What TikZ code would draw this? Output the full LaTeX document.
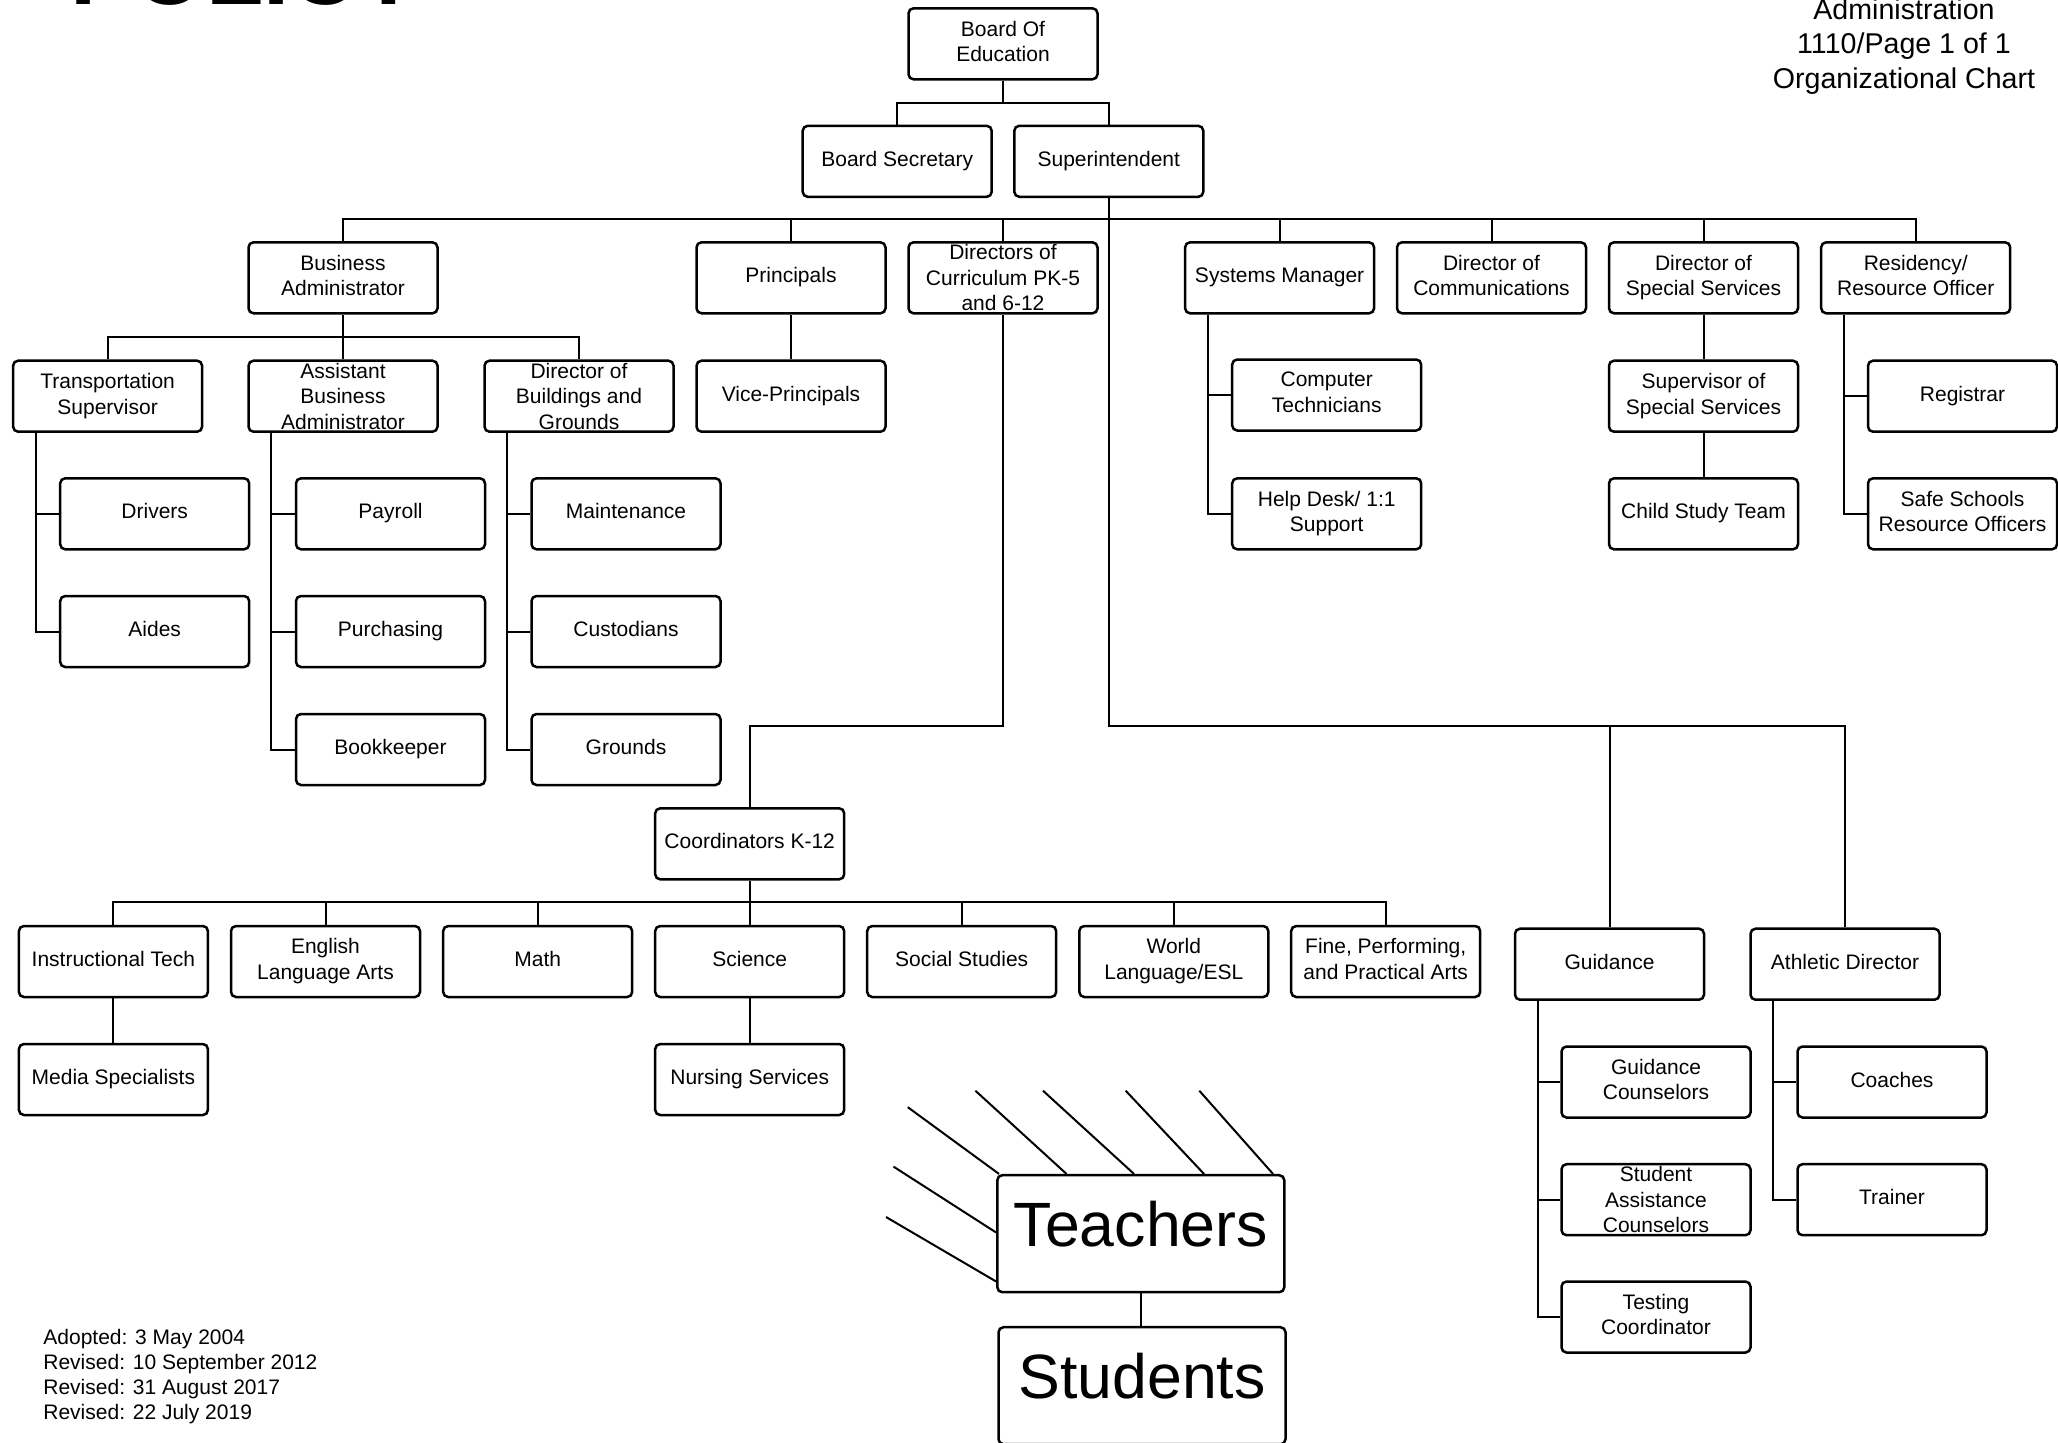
\documentclass[tikz,border=0pt]{standalone}
\usepackage{fontspec}
\setmainfont{Liberation Sans}
\usetikzlibrary{calc}
\begin{document}
\begin{tikzpicture}[x=0.5pt,y=-0.5pt,
  boxbase/.style={draw, line width=1.25pt, rounded corners=2.5pt, minimum width=94.5pt, minimum height=35.5pt, inner sep=0pt, align=center, font=\fontsize{10.5}{12.8}\selectfont},
  box/.style={boxbase, execute at end node={\rule[-2.6pt]{0pt}{0pt}}},
  boxiii/.style={boxbase},
  bigbox/.style={boxbase, minimum width=143.5pt, minimum height=58.5pt, font=\fontsize{31.3}{36}\selectfont, text height=20.5pt, text depth=7.5pt},
  conn/.style={line width=1pt},
  plain/.style={inner sep=0pt}
]
\useasboundingbox (0,0) rectangle (2058,1442);
\fill[white] (0,0) rectangle (2058,1442);

% header texts
\node[plain, anchor=base west, font=\bfseries\fontsize{47}{50}\selectfont] (policy) at (70,4) {POLICY};
\node[plain, anchor=north, align=center, font=\fontsize{14.3}{17.15}\selectfont] (hdr) at (1904,-1.5) {Administration\\1110/Page 1 of 1\\Organizational Chart};
\node[plain, anchor=north west, align=left, font=\fontsize{10.5}{12.5}\selectfont] (dates) at (43,1329.3) {Adopted: 3 May 2004\\Revised: 10 September 2012\\Revised: 31 August 2017\\Revised: 22 July 2019};

% top
\node[box] (boe) at (1003,43.8) {Board Of\\Education};
\node[box] (bsec) at (897.2,161.3) {Board Secretary};
\node[box] (sup) at (1108.8,161.3) {Superintendent};

% level 2
\node[box] (busadm) at (343,277.8) {Business\\Administrator};
\node[box] (prin) at (791,277.8) {Principals};
\node[boxiii] (dircur) at (1003,277.8) {Directors of\\Curriculum PK-5\\and 6-12};
\node[box] (sysm) at (1279.6,277.8) {Systems Manager};
\node[box] (comm) at (1491.5,277.8) {Director of\\Communications};
\node[box] (spec) at (1703.5,277.8) {Director of\\Special Services};
\node[box] (resid) at (1915.7,277.8) {Residency/\\Resource Officer};

% level 3
\node[box] (trans) at (107.6,396.2) {Transportation\\Supervisor};
\node[boxiii] (asst) at (343,396.2) {Assistant\\Business\\Administrator};
\node[boxiii] (bldg) at (579,396.2) {Director of\\Buildings and\\Grounds};
\node[box] (vice) at (791,396.2) {Vice-Principals};
\node[box] (comp) at (1326.7,395) {Computer\\Technicians};
\node[box] (supsp) at (1703.5,396.2) {Supervisor of\\Special Services};
\node[box] (reg) at (1962.5,396.2) {Registrar};

% level 4
\node[box] (drivers) at (154.7,513.8) {Drivers};
\node[box] (payroll) at (390.5,513.8) {Payroll};
\node[box] (maint) at (626,513.8) {Maintenance};
\node[box] (help) at (1326.7,513.8) {Help Desk/ 1:1\\Support};
\node[box] (child) at (1703.5,513.8) {Child Study Team};
\node[box] (safe) at (1962.5,513.8) {Safe Schools\\Resource Officers};

% level 5/6
\node[box] (aides) at (154.7,631.5) {Aides};
\node[box] (purch) at (390.5,631.5) {Purchasing};
\node[box] (cust) at (626,631.5) {Custodians};
\node[box] (book) at (390.5,749.5) {Bookkeeper};
\node[box] (grounds) at (626,749.5) {Grounds};

% coordinators
\node[box] (coordk) at (749.7,843.8) {Coordinators K-12};
\node[box] (instr) at (113.4,961.5) {Instructional Tech};
\node[box] (eng) at (325.5,961.5) {English\\Language Arts};
\node[box] (math) at (537.7,961.5) {Math};
\node[box] (sci) at (749.7,961.5) {Science};
\node[box] (soc) at (961.7,961.5) {Social Studies};
\node[box] (world) at (1173.8,961.5) {World\\Language/ESL};
\node[box] (fine) at (1385.7,961.5) {Fine, Performing,\\and Practical Arts};
\node[box] (media) at (113.4,1079.5) {Media Specialists};
\node[box] (nurse) at (749.7,1079.5) {Nursing Services};

% guidance / athletics
\node[box] (guid) at (1609.5,964.2) {Guidance};
\node[box] (ath) at (1845,964.2) {Athletic Director};
\node[box] (gcoun) at (1656,1082) {Guidance\\Counselors};
\node[boxiii] (sac) at (1656,1199.7) {Student\\Assistance\\Counselors};
\node[box] (test) at (1656,1317) {Testing\\Coordinator};
\node[box] (coach) at (1892,1082) {Coaches};
\node[box] (trainer) at (1892,1199.7) {Trainer};

% teachers / students
\node[bigbox] (teach) at (1140.8,1233.7) {Teachers};
\node[bigbox] (stud) at (1142,1385.7) {Students};

% bus coordinates
\coordinate (b1) at (1003,102.7);
\coordinate (b2) at (1108.8,219.3);
\coordinate (b3) at (343,336.7);
\coordinate (c2) at (1108.8,725.5);
\coordinate (b4) at (749.7,902.3);

% connectors
\draw[conn] (boe.south) -- (b1);
\draw[conn] (bsec.north) |- (b1) -| (sup.north);

\draw[conn] (sup.south) -- (b2);
\draw[conn] (busadm.north) |- (b2) -| (resid.north);
\foreach \n in {prin,dircur,sysm,comm,spec}
  \draw[conn] (\n.north) -- (\n.north |- b2);

\draw[conn] (busadm.south) -- (b3);
\draw[conn] (trans.north) |- (b3) -| (bldg.north);
\draw[conn] (asst.north) -- (b3);

\foreach \p/\c in {trans/drivers, trans/aides, asst/payroll, asst/purch, asst/book, bldg/maint, bldg/cust, bldg/grounds, sysm/comp, sysm/help, resid/reg, resid/safe, guid/gcoun, guid/sac, guid/test, ath/coach, ath/trainer}
  \draw[conn] ($(\p.south west)+(24,0)$) |- (\c.west);

\draw[conn] (prin.south) -- (vice.north);
\draw[conn] (spec.south) -- (supsp.north);
\draw[conn] (supsp.south) -- (child.north);
\draw[conn] (instr.south) -- (media.north);
\draw[conn] (sci.south) -- (nurse.north);
\draw[conn] (teach.south) -- (teach.south |- stud.north);

\draw[conn] (dircur.south) -- (dircur.south |- c2) -| (coordk.north);
\draw[conn] (sup.south) -- (c2) -| (ath.north);
\draw[conn] (guid.north) -- (guid.north |- c2);

\draw[conn] (coordk.south) -- (b4);
\draw[conn] (instr.north) |- (b4) -| (fine.north);
\foreach \n in {eng,math,sci,soc,world}
  \draw[conn] (\n.north) -- (\n.north |- b4);

% lines into Teachers
\coordinate (t1) at (907.8,1107.2);
\coordinate (t2) at (975.4,1090.7);
\coordinate (t3) at (1043,1090.7);
\coordinate (t4) at (1125.7,1090.7);
\coordinate (t5) at (1199.3,1090.7);
\coordinate (t6) at (893.5,1166.6);
\coordinate (t7) at (886,1217);
\draw[conn] (t1) -- ($(teach.north west)+(3,0)$);
\draw[conn] (t2) -- ($(teach.north west)+(70.5,0)$);
\draw[conn] (t3) -- ($(teach.north west)+(138,0)$);
\draw[conn] (t4) -- ($(teach.north west)+(208,0)$);
\draw[conn] (t5) -- ($(teach.north west)+(277,0)$);
\draw[conn] (t6) -- ($(teach.north west)+(0,58.5)$);
\draw[conn] (t7) -- ($(teach.north west)+(0,107.5)$);
\end{tikzpicture}
\end{document}
